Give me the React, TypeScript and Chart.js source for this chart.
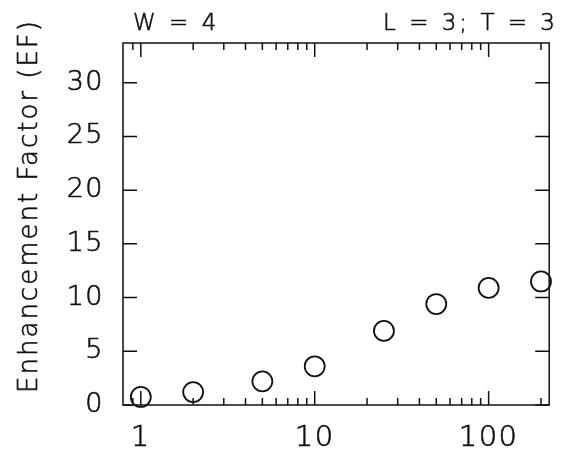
import React, { useEffect, useRef } from "react";
import { Chart, registerables } from "chart.js";

Chart.register(...registerables);

// ---- data ----
const xValues = [1, 2, 5, 10, 25, 50, 100, 200];
const efValues = [0.75, 1.2, 2.2, 3.6, 6.9, 9.4, 10.9, 11.5];
const xMajorTicks = [1, 10, 100];
const xMinorTicks = [0.9, 2, 3, 4, 5, 6, 7, 8, 9, 20, 30, 40, 50, 60, 70, 80, 90, 200];
const yTicks = [0, 5, 10, 15, 20, 25, 30];
const yTitle = "Enhancement Factor (EF)";
const leftNote = "W = 4";
const rightNote = "L = 3; T = 3";

const FONT = "'DejaVu Sans', sans-serif";
const INK = "#111";

const framePlugin = {
  id: "frame",
  beforeDraw(chart: any) {
    const ctx = chart.ctx;
    ctx.letterSpacing = "1.5px";
  },
  beforeDatasetsDraw(chart: any) {
    const { ctx, chartArea: a, scales } = chart;
    const xs = scales.x;
    const ys = scales.y;
    ctx.save();
    ctx.strokeStyle = INK;
    ctx.lineWidth = 1.5;
    ctx.strokeRect(a.left, a.top, a.right - a.left, a.bottom - a.top);
    ctx.beginPath();
    const drawX = (v: number, len: number) => {
      const px = xs.getPixelForValue(v);
      if (px < a.left || px > a.right) return;
      ctx.moveTo(px, a.bottom);
      ctx.lineTo(px, a.bottom - len);
      ctx.moveTo(px, a.top);
      ctx.lineTo(px, a.top + len);
    };
    xMajorTicks.forEach((v) => drawX(v, 14));
    xMinorTicks.forEach((v) => drawX(v, 7));
    yTicks.forEach((v) => {
      const py = ys.getPixelForValue(v);
      ctx.moveTo(a.left, py);
      ctx.lineTo(a.left + 14, py);
      ctx.moveTo(a.right, py);
      ctx.lineTo(a.right - 14, py);
    });
    ctx.stroke();
    ctx.restore();
  },
  afterDraw(chart: any) {
    const { ctx } = chart;
    ctx.save();
    ctx.fillStyle = INK;
    ctx.strokeStyle = INK;
    ctx.lineWidth = 0.6;
    ctx.letterSpacing = "3px";
    ctx.font = `200 23px ${FONT}`;
    ctx.textBaseline = "alphabetic";
    ctx.textAlign = "left";
    ctx.fillText(leftNote, 133, 30);
    ctx.strokeText(leftNote, 133, 30);
    ctx.textAlign = "right";
    ctx.fillText(rightNote, 558, 30);
    ctx.strokeText(rightNote, 558, 30);
    ctx.letterSpacing = "2px";
    ctx.font = `200 26px ${FONT}`;
    ctx.translate(30, 206);
    ctx.rotate(-Math.PI / 2);
    ctx.textAlign = "center";
    ctx.textBaseline = "middle";
    ctx.fillText(yTitle, 0, 0);
    ctx.strokeText(yTitle, 0, 0);
    ctx.restore();
  },
};

export default function App() {
  const ref = useRef<HTMLCanvasElement>(null);
  useEffect(() => {
    if (!ref.current) return;
    const chart = new Chart(ref.current, {
      type: "scatter",
      data: {
        datasets: [
          {
            data: xValues.map((x, i) => ({ x, y: efValues[i] })),
            pointStyle: "circle",
            pointRadius: 10,
            pointBorderWidth: 1.8,
            pointBackgroundColor: "rgba(0,0,0,0)",
            pointBorderColor: INK,
            clip: false,
          } as any,
        ],
      },
      options: {
        responsive: false,
        animation: false,
        events: [],
        layout: { padding: { top: 43, right: 2, left: 0, bottom: 0 } },
        plugins: { legend: { display: false }, tooltip: { enabled: false } },
        scales: {
          x: {
            type: "logarithmic",
            min: 0.79,
            max: 223,
            grid: { display: false, drawTicks: false },
            border: { display: false },
            afterBuildTicks: (s: any) => {
              s.ticks = xMajorTicks.map((v) => ({ value: v }));
            },
            afterFit: (s: any) => {
              s.height = 47;
            },
            ticks: {
              autoSkip: false,
              maxRotation: 0,
              padding: 16,
              color: INK,
              textStrokeColor: INK,
              textStrokeWidth: 0.6,
              font: { family: FONT, size: 29, weight: "200" as any },
              callback: (v: any) => String(v),
            },
          },
          y: {
            type: "linear",
            min: 0,
            max: 33.7,
            grid: { display: false, drawTicks: false },
            border: { display: false },
            afterBuildTicks: (s: any) => {
              s.ticks = yTicks.map((v) => ({ value: v }));
            },
            afterFit: (s: any) => {
              s.width = 123;
            },
            ticks: {
              padding: 19,
              color: INK,
              textStrokeColor: INK,
              textStrokeWidth: 0.6,
              font: { family: FONT, size: 27, weight: "200" as any },
              callback: (v: any) => String(v),
            },
          },
        },
      },
      plugins: [framePlugin],
    });
    return () => chart.destroy();
  }, []);
  return (
    <div style={{ position: "fixed", left: 0, top: 0, width: 561, height: 452, background: "#fff" }}>
      <canvas ref={ref} width={561} height={452} style={{ display: "block" }} />
    </div>
  );
}
